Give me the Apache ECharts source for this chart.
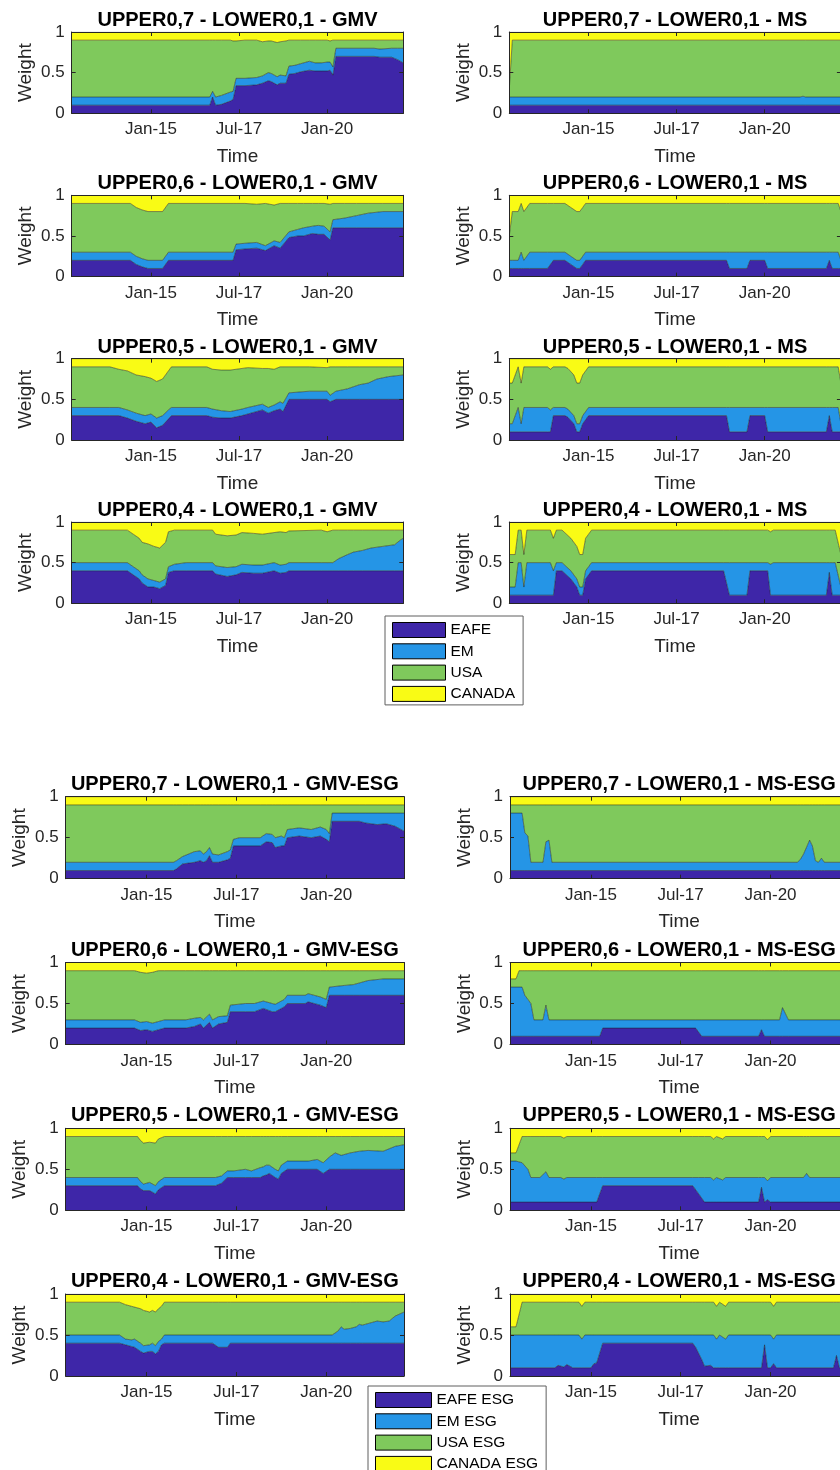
<!DOCTYPE html>
<html>
<head>
<meta charset="utf-8">
<script src="https://cdn.jsdelivr.net/npm/echarts@6/dist/echarts.min.js"></script>
<style>
  html, body { margin: 0; padding: 0; background: #fff; }
  #chart { width: 840px; height: 1470px; }
</style>
</head>
<body>
<div id="chart"></div>
<script>
// ---- shared labels ----
const assets = ['EAFE', 'EM', 'USA', 'CANADA'];
const assetsEsg = ['EAFE ESG', 'EM ESG', 'USA ESG', 'CANADA ESG'];
const tickDates = ['2015-01', '2017-07', '2020-01'];
const tickLabels = ['Jan-15', 'Jul-17', 'Jan-20'];
const dateStart = '2012-10';
const dateEnd = '2022-03';

// ---- portfolio weights (monthly rebalancing dates) ----
// GMV, upper 0.7
const gmv07Dates = ['2012-10','2016-09','2016-10','2016-11','2017-01','2017-04','2017-05','2017-06','2017-09','2018-01','2018-03','2018-05','2018-06','2018-08','2018-09','2018-11','2018-12','2019-02','2019-04','2019-07','2019-09','2019-11','2020-01','2020-02','2020-03','2020-04','2021-05','2021-07','2021-11','2022-01','2022-03'];
const gmv07Eafe = [.1,.1,.2,.1,.11,.15,.17,.34,.34,.35,.37,.4,.39,.35,.37,.37,.48,.49,.51,.53,.52,.52,.52,.53,.47,.7,.7,.69,.69,.66,.62];
const gmv07Em   = [.1,.1,.07,.1,.11,.11,.1,.09,.09,.09,.09,.1,.1,.1,.1,.09,.1,.1,.1,.11,.1,.1,.11,.1,.1,.1,.1,.1,.11,.14,.18];
const gmv07Usa  = [.7,.7,.63,.7,.68,.64,.62,.46,.47,.46,.42,.39,.4,.42,.41,.43,.32,.31,.29,.26,.28,.28,.27,.26,.33,.1,.1,.11,.1,.1,.1];
const gmv07Can  = [.1,.1,.1,.1,.1,.1,.11,.11,.1,.1,.12,.11,.11,.13,.12,.11,.1,.1,.1,.1,.1,.1,.1,.11,.1,.1,.1,.1,.1,.1,.1];

// GMV, upper 0.6
const gmv06Dates = ['2012-10','2014-06','2014-08','2014-10','2014-12','2015-05','2015-07','2017-05','2017-06','2017-09','2018-01','2018-04','2018-07','2018-09','2018-12','2019-03','2019-05','2019-08','2019-10','2019-12','2020-02','2020-03','2020-07','2020-11','2021-03','2021-08','2022-03'];
const gmv06Eafe = [.2,.2,.15,.12,.1,.1,.2,.2,.33,.34,.35,.32,.38,.35,.48,.5,.5,.53,.52,.52,.45,.6,.6,.6,.6,.6,.6];
const gmv06Em   = [.1,.1,.1,.1,.1,.1,.1,.1,.07,.07,.07,.06,.06,.07,.07,.08,.1,.09,.11,.1,.1,.1,.12,.15,.18,.2,.2];
const gmv06Usa  = [.6,.6,.6,.6,.6,.6,.6,.6,.5,.49,.47,.52,.44,.48,.35,.32,.3,.28,.27,.28,.34,.2,.18,.15,.12,.1,.1];
const gmv06Can  = [.1,.1,.15,.18,.2,.2,.1,.1,.1,.1,.11,.1,.12,.1,.1,.1,.1,.1,.1,.1,.11,.1,.1,.1,.1,.1,.1];

// GMV, upper 0.5
const gmv05Dates = ['2012-10','2013-11','2014-02','2014-05','2014-08','2014-11','2015-01','2015-03','2015-05','2015-07','2015-08','2016-08','2016-10','2017-01','2017-04','2017-08','2017-10','2018-03','2018-05','2018-07','2018-09','2018-10','2018-12','2019-07','2020-01','2020-02','2020-04','2020-08','2020-12','2021-03','2021-06','2021-10','2022-03'];
const gmv05Eafe = [.3,.3,.3,.27,.23,.2,.22,.15,.18,.26,.3,.3,.28,.27,.27,.3,.32,.37,.33,.36,.38,.35,.5,.5,.5,.47,.5,.5,.5,.5,.5,.5,.5];
const gmv05Em   = [.1,.1,.1,.1,.1,.1,.1,.12,.12,.11,.1,.1,.1,.09,.08,.08,.08,.07,.07,.07,.09,.1,.08,.1,.1,.08,.1,.13,.18,.2,.25,.28,.3];
const gmv05Usa  = [.5,.5,.47,.48,.47,.48,.44,.45,.45,.48,.5,.5,.49,.5,.51,.5,.49,.44,.48,.44,.43,.45,.32,.3,.29,.35,.3,.27,.22,.2,.15,.12,.1];
const gmv05Can  = [.1,.1,.13,.15,.2,.22,.24,.28,.25,.15,.1,.1,.13,.14,.14,.12,.11,.12,.12,.13,.1,.1,.1,.1,.11,.1,.1,.1,.1,.1,.1,.1,.1];

// GMV, upper 0.4
const gmv04Dates = ['2012-10','2014-05','2014-07','2014-09','2014-10','2014-12','2015-02','2015-04','2015-06','2015-07','2015-09','2016-01','2016-10','2016-11','2017-03','2017-06','2017-08','2017-12','2018-03','2018-07','2018-09','2018-11','2018-12','2019-11','2020-01','2020-03','2020-05','2020-08','2020-10','2021-01','2021-04','2021-08','2021-12','2022-02','2022-03'];
const gmv04Eafe = [.4,.4,.35,.3,.25,.2,.2,.18,.22,.38,.4,.4,.4,.36,.33,.35,.38,.37,.37,.4,.37,.38,.4,.4,.4,.4,.4,.4,.4,.4,.4,.4,.4,.4,.4];
const gmv04Em   = [.1,.1,.1,.1,.1,.1,.08,.08,.08,.07,.08,.1,.1,.1,.11,.1,.1,.1,.1,.1,.1,.1,.1,.1,.1,.1,.15,.2,.23,.25,.28,.3,.32,.38,.4];
const gmv04Usa  = [.4,.4,.4,.4,.4,.43,.42,.42,.45,.43,.42,.4,.4,.39,.39,.39,.39,.39,.38,.37,.41,.39,.39,.4,.38,.4,.35,.3,.27,.25,.22,.2,.18,.12,.1];
const gmv04Can  = [.1,.1,.15,.2,.25,.27,.3,.32,.25,.12,.1,.1,.1,.15,.17,.16,.13,.14,.15,.13,.12,.13,.11,.1,.12,.1,.1,.1,.1,.1,.1,.1,.1,.1,.1];

// MS, upper 0.7
const ms07Dates = ['2012-10','2012-11','2021-01','2021-02','2021-03','2022-03'];
const ms07Eafe = [.1,.1,.1,.1,.1,.1];
const ms07Em   = [.1,.1,.1,.11,.1,.1];
const ms07Usa  = [.1,.7,.7,.69,.7,.7];
const ms07Can  = [.7,.1,.1,.1,.1,.1];

// MS, upper 0.6
const ms06Dates = ['2012-10','2012-11','2013-01','2013-02','2013-03','2013-05','2013-11','2014-01','2014-05','2014-07','2014-09','2014-10','2014-11','2014-12','2018-12','2019-01','2019-07','2019-08','2020-01','2020-02','2021-10','2021-11','2021-12','2022-02','2022-03'];
const ms06Eafe = [.1,.1,.1,.1,.1,.1,.1,.2,.2,.15,.1,.1,.15,.2,.2,.1,.1,.2,.2,.1,.1,.2,.1,.1,.1];
const ms06Em   = [.1,.1,.1,.2,.1,.2,.2,.1,.1,.1,.1,.1,.1,.1,.1,.2,.2,.1,.1,.2,.2,.1,.2,.2,.1];
const ms06Usa  = [.3,.6,.6,.6,.6,.6,.6,.6,.6,.6,.6,.6,.6,.6,.6,.6,.6,.6,.6,.6,.6,.6,.6,.6,.6];
const ms06Can  = [.5,.2,.2,.1,.2,.1,.1,.1,.1,.15,.2,.2,.15,.1,.1,.1,.1,.1,.1,.1,.1,.1,.1,.1,.2];

// MS, upper 0.5
const ms05Dates = ['2012-10','2012-11','2013-01','2013-02','2013-03','2013-11','2013-12','2014-01','2014-05','2014-06','2014-08','2014-09','2014-10','2014-11','2015-01','2018-12','2019-01','2019-07','2019-08','2020-01','2020-02','2021-10','2021-11','2021-12','2022-02','2022-03'];
const ms05Eafe = [.1,.1,.1,.1,.1,.1,.1,.3,.3,.28,.2,.1,.1,.2,.3,.3,.1,.1,.3,.3,.1,.1,.3,.1,.1,.1];
const ms05Em   = [.1,.1,.3,.1,.3,.3,.27,.1,.1,.1,.1,.1,.1,.1,.1,.1,.3,.3,.1,.1,.3,.3,.1,.3,.3,.1];
const ms05Usa  = [.5,.5,.5,.5,.5,.5,.5,.5,.5,.5,.5,.5,.5,.5,.5,.5,.5,.5,.5,.5,.5,.5,.5,.5,.5,.5];
const ms05Can  = [.3,.3,.1,.3,.1,.1,.13,.1,.1,.12,.2,.3,.3,.2,.1,.1,.1,.1,.1,.1,.1,.1,.1,.1,.1,.3];

// MS, upper 0.4
const ms04Dates = ['2012-10','2012-12','2013-01','2013-02','2013-03','2013-04','2013-12','2014-01','2014-02','2014-04','2014-07','2014-09','2014-10','2014-11','2014-12','2015-01','2015-02','2018-11','2019-01','2019-07','2019-08','2020-02','2020-03','2020-04','2021-10','2021-11','2021-12','2022-01','2022-03'];
const ms04Eafe = [.1,.1,.1,.1,.1,.1,.1,.1,.4,.4,.3,.2,.1,.1,.3,.35,.4,.4,.1,.1,.4,.4,.1,.1,.1,.38,.1,.1,.1];
const ms04Em   = [.1,.1,.4,.4,.1,.4,.4,.3,.1,.1,.1,.1,.1,.1,.1,.1,.1,.1,.4,.4,.1,.1,.38,.4,.4,.12,.4,.4,.1];
const ms04Usa  = [.4,.4,.4,.4,.4,.4,.4,.4,.4,.4,.4,.4,.4,.4,.4,.4,.4,.4,.4,.4,.4,.4,.4,.4,.4,.4,.4,.4,.4];
const ms04Can  = [.4,.4,.1,.1,.4,.1,.1,.2,.1,.1,.2,.3,.4,.4,.2,.15,.1,.1,.1,.1,.1,.1,.12,.1,.1,.1,.1,.1,.4];

// GMV-ESG, upper 0.7
const gmvEsg07Dates = ['2012-10','2015-10','2015-11','2016-01','2016-03','2016-05','2016-07','2016-08','2016-09','2016-10','2016-11','2017-01','2017-04','2017-05','2017-06','2017-08','2018-03','2018-05','2018-07','2018-08','2018-10','2018-11','2018-12','2019-04','2019-08','2019-11','2020-01','2020-02','2020-03','2020-12','2021-02','2021-06','2021-09','2021-12','2022-03'];
const gmvEsg07Eafe = [.1,.1,.12,.18,.19,.2,.22,.2,.22,.28,.2,.2,.23,.25,.4,.4,.4,.45,.44,.38,.4,.4,.5,.52,.5,.52,.48,.45,.7,.7,.68,.66,.67,.64,.58];
const gmvEsg07Em   = [.1,.1,.1,.09,.11,.13,.12,.1,.11,.1,.1,.09,.1,.1,.08,.1,.1,.1,.1,.12,.12,.1,.1,.1,.1,.11,.12,.1,.1,.1,.12,.14,.13,.16,.22];
const gmvEsg07Usa  = [.7,.7,.68,.63,.6,.57,.56,.6,.57,.52,.6,.61,.57,.55,.42,.4,.4,.35,.36,.4,.38,.4,.3,.28,.3,.27,.3,.35,.1,.1,.1,.1,.1,.1,.1];
const gmvEsg07Can  = [.1,.1,.1,.1,.1,.1,.1,.1,.1,.1,.1,.1,.1,.1,.1,.1,.1,.1,.1,.1,.1,.1,.1,.1,.1,.1,.1,.1,.1,.1,.1,.1,.1,.1,.1];

// GMV-ESG, upper 0.6
const gmvEsg06Dates = ['2012-10','2014-09','2014-11','2015-01','2015-03','2015-05','2015-07','2016-02','2016-05','2016-07','2016-08','2016-10','2016-11','2017-01','2017-04','2017-05','2017-10','2018-01','2018-04','2018-07','2018-08','2018-11','2018-12','2019-06','2019-07','2019-11','2020-01','2020-02','2020-07','2020-10','2020-12','2021-03','2021-08','2022-03'];
const gmvEsg06Eafe = [.2,.2,.17,.18,.16,.18,.2,.2,.22,.25,.2,.27,.2,.25,.27,.4,.4,.4,.44,.4,.4,.46,.5,.5,.52,.48,.45,.6,.6,.6,.6,.6,.6,.6];
const gmvEsg06Em   = [.1,.1,.1,.1,.1,.1,.1,.1,.1,.08,.1,.1,.1,.09,.08,.08,.1,.1,.09,.1,.09,.09,.1,.1,.1,.1,.1,.1,.12,.13,.15,.18,.2,.2];
const gmvEsg06Usa  = [.6,.6,.61,.59,.62,.62,.6,.6,.58,.57,.6,.53,.6,.56,.55,.42,.4,.4,.37,.4,.41,.35,.3,.3,.28,.32,.35,.2,.18,.17,.15,.12,.1,.1];
const gmvEsg06Can  = [.1,.1,.12,.13,.12,.1,.1,.1,.1,.1,.1,.1,.1,.1,.1,.1,.1,.1,.1,.1,.1,.1,.1,.1,.1,.1,.1,.1,.1,.1,.1,.1,.1,.1];

// GMV-ESG, upper 0.5
const gmvEsg05Dates = ['2012-10','2014-10','2014-11','2014-12','2015-02','2015-04','2015-05','2015-07','2016-12','2017-02','2017-04','2017-06','2017-10','2017-12','2018-03','2018-04','2018-05','2018-06','2018-08','2018-09','2018-10','2018-12','2019-07','2019-10','2019-12','2020-02','2020-04','2020-06','2020-09','2020-12','2021-03','2021-08','2021-12','2022-03'];
const gmvEsg05Eafe = [.3,.3,.26,.24,.24,.2,.25,.3,.3,.33,.4,.4,.4,.4,.4,.42,.43,.45,.4,.38,.45,.5,.5,.5,.45,.5,.5,.5,.5,.5,.5,.5,.5,.5];
const gmvEsg05Em   = [.1,.1,.09,.08,.1,.1,.1,.1,.1,.09,.08,.08,.1,.08,.12,.11,.12,.1,.1,.1,.1,.1,.1,.12,.13,.15,.2,.17,.2,.22,.23,.22,.28,.3];
const gmvEsg05Usa  = [.5,.5,.5,.5,.49,.52,.52,.5,.5,.48,.42,.42,.4,.42,.38,.37,.35,.35,.4,.42,.35,.3,.3,.28,.32,.25,.2,.23,.2,.18,.17,.18,.12,.1];
const gmvEsg05Can  = [.1,.1,.15,.18,.17,.18,.13,.1,.1,.1,.1,.1,.1,.1,.1,.1,.1,.1,.1,.1,.1,.1,.1,.1,.1,.1,.1,.1,.1,.1,.1,.1,.1,.1];

// GMV-ESG, upper 0.4
const gmvEsg04Dates = ['2012-10','2014-04','2014-06','2014-08','2014-09','2014-11','2014-12','2015-02','2015-03','2015-04','2015-05','2015-06','2015-07','2016-11','2017-01','2017-04','2017-05','2020-03','2020-05','2020-06','2020-07','2020-09','2020-11','2020-12','2021-01','2021-04','2021-06','2021-08','2021-10','2021-12','2022-03'];
const gmvEsg04Eafe = [.4,.4,.38,.36,.35,.3,.28,.3,.3,.27,.3,.38,.4,.4,.35,.35,.4,.4,.4,.4,.4,.4,.4,.4,.4,.4,.4,.4,.4,.4,.4];
const gmvEsg04Em   = [.1,.1,.07,.08,.1,.1,.09,.08,.1,.1,.12,.07,.1,.1,.15,.15,.1,.1,.15,.2,.17,.18,.2,.23,.22,.25,.27,.26,.27,.33,.38];
const gmvEsg04Usa  = [.4,.4,.42,.41,.39,.42,.43,.4,.4,.41,.4,.4,.4,.4,.4,.4,.4,.4,.35,.3,.33,.32,.3,.27,.28,.25,.23,.24,.23,.17,.12];
const gmvEsg04Can  = [.1,.1,.13,.15,.16,.18,.2,.22,.2,.22,.18,.15,.1,.1,.1,.1,.1,.1,.1,.1,.1,.1,.1,.1,.1,.1,.1,.1,.1,.1,.1];

// MS-ESG, upper 0.7
const msEsg07Dates = ['2012-10','2013-02','2013-03','2013-04','2013-05','2013-09','2013-10','2013-11','2013-12','2020-10','2020-11','2020-12','2021-02','2021-03','2021-04','2021-05','2021-06','2021-07','2022-03'];
const msEsg07Eafe = [.1,.1,.1,.1,.1,.1,.1,.1,.1,.1,.1,.1,.1,.1,.1,.1,.1,.1,.1];
const msEsg07Em   = [.7,.7,.46,.42,.1,.1,.35,.37,.1,.1,.14,.2,.37,.3,.12,.1,.15,.1,.1];
const msEsg07Usa  = [.1,.1,.34,.38,.7,.7,.45,.43,.7,.7,.66,.6,.43,.5,.68,.7,.65,.7,.7];
const msEsg07Can  = [.1,.1,.1,.1,.1,.1,.1,.1,.1,.1,.1,.1,.1,.1,.1,.1,.1,.1,.1];

// MS-ESG, upper 0.6
const msEsg06Dates = ['2012-10','2012-12','2013-01','2013-02','2013-03','2013-04','2013-05','2013-06','2013-09','2013-10','2013-11','2015-04','2015-05','2017-12','2018-02','2019-09','2019-10','2019-11','2020-04','2020-05','2020-07','2022-03'];
const msEsg06Eafe = [.1,.1,.1,.1,.1,.1,.1,.1,.1,.1,.1,.1,.2,.2,.1,.1,.18,.1,.1,.1,.1,.1];
const msEsg06Em   = [.6,.6,.6,.6,.5,.45,.4,.2,.2,.38,.2,.2,.1,.1,.2,.2,.12,.2,.2,.35,.2,.2];
const msEsg06Usa  = [.1,.1,.2,.2,.3,.35,.4,.6,.6,.42,.6,.6,.6,.6,.6,.6,.6,.6,.6,.45,.6,.6];
const msEsg06Can  = [.2,.2,.1,.1,.1,.1,.1,.1,.1,.1,.1,.1,.1,.1,.1,.1,.1,.1,.1,.1,.1,.1];

// MS-ESG, upper 0.5
const msEsg05Dates = ['2012-10','2012-12','2013-02','2013-04','2013-05','2013-08','2013-10','2013-11','2014-03','2014-04','2014-05','2015-03','2015-05','2017-11','2018-01','2018-03','2018-05','2018-06','2018-07','2018-09','2018-10','2019-09','2019-10','2019-11','2019-12','2020-01','2020-12','2021-01','2021-02','2022-02','2022-03'];
const msEsg05Eafe = [.1,.1,.1,.1,.1,.1,.1,.1,.1,.1,.1,.1,.3,.3,.2,.1,.1,.1,.1,.1,.1,.1,.28,.1,.13,.1,.1,.1,.1,.1,.2];
const msEsg05Em   = [.5,.5,.48,.4,.3,.3,.37,.3,.3,.28,.3,.3,.1,.1,.2,.3,.3,.27,.3,.27,.3,.3,.12,.3,.23,.3,.3,.35,.3,.3,.2];
const msEsg05Usa  = [.1,.1,.32,.4,.5,.5,.43,.5,.5,.5,.5,.5,.5,.5,.5,.5,.5,.5,.5,.5,.5,.5,.5,.5,.5,.5,.5,.45,.5,.5,.5];
const msEsg05Can  = [.3,.3,.1,.1,.1,.1,.1,.1,.1,.12,.1,.1,.1,.1,.1,.1,.1,.13,.1,.13,.1,.1,.1,.1,.14,.1,.1,.1,.1,.1,.1];

// MS-ESG, upper 0.4
const msEsg04Dates = ['2012-10','2012-12','2013-02','2014-01','2014-02','2014-04','2014-05','2014-06','2014-07','2014-09','2014-10','2014-11','2015-01','2015-02','2015-03','2015-05','2017-11','2017-12','2018-02','2018-03','2018-05','2018-06','2018-07','2018-08','2018-10','2018-11','2019-10','2019-11','2019-12','2020-01','2020-02','2020-03','2021-10','2021-11','2021-12','2022-03'];
const msEsg04Eafe = [.1,.1,.1,.1,.13,.11,.14,.12,.1,.1,.1,.1,.1,.15,.16,.4,.4,.35,.2,.12,.13,.1,.1,.1,.1,.1,.1,.38,.1,.1,.15,.1,.1,.25,.1,.1];
const msEsg04Em   = [.4,.4,.4,.4,.37,.39,.36,.38,.4,.4,.35,.4,.4,.35,.34,.1,.1,.15,.3,.38,.37,.4,.35,.4,.35,.4,.4,.12,.4,.4,.3,.4,.4,.25,.4,.4];
const msEsg04Usa  = [.1,.1,.4,.4,.4,.4,.4,.4,.4,.4,.4,.4,.4,.4,.4,.4,.4,.4,.4,.4,.4,.4,.4,.4,.4,.4,.4,.4,.4,.4,.4,.4,.4,.4,.4,.4];
const msEsg04Can  = [.4,.4,.1,.1,.1,.1,.1,.1,.1,.1,.15,.1,.1,.1,.1,.1,.1,.1,.1,.1,.1,.1,.15,.1,.15,.1,.1,.1,.1,.1,.15,.1,.1,.1,.1,.1];

// ---- styling ----
const areaColors = ['#3e26a8', '#2595e6', '#7fc95c', '#f9fb15'];
const FONT = '"Liberation Sans", Arial, Helvetica, sans-serif';
const INK = '#262626';

// panels: section 0 = plain, 1 = ESG; col 0 = GMV, 1 = MS
const panels = [
  { title: 'UPPER0,7 - LOWER0,1 - GMV', sec: 0, col: 0, row: 0, dates: gmv07Dates, w: [gmv07Eafe, gmv07Em, gmv07Usa, gmv07Can] },
  { title: 'UPPER0,6 - LOWER0,1 - GMV', sec: 0, col: 0, row: 1, dates: gmv06Dates, w: [gmv06Eafe, gmv06Em, gmv06Usa, gmv06Can] },
  { title: 'UPPER0,5 - LOWER0,1 - GMV', sec: 0, col: 0, row: 2, dates: gmv05Dates, w: [gmv05Eafe, gmv05Em, gmv05Usa, gmv05Can] },
  { title: 'UPPER0,4 - LOWER0,1 - GMV', sec: 0, col: 0, row: 3, dates: gmv04Dates, w: [gmv04Eafe, gmv04Em, gmv04Usa, gmv04Can] },
  { title: 'UPPER0,7 - LOWER0,1 - MS', sec: 0, col: 1, row: 0, dates: ms07Dates, w: [ms07Eafe, ms07Em, ms07Usa, ms07Can] },
  { title: 'UPPER0,6 - LOWER0,1 - MS', sec: 0, col: 1, row: 1, dates: ms06Dates, w: [ms06Eafe, ms06Em, ms06Usa, ms06Can] },
  { title: 'UPPER0,5 - LOWER0,1 - MS', sec: 0, col: 1, row: 2, dates: ms05Dates, w: [ms05Eafe, ms05Em, ms05Usa, ms05Can] },
  { title: 'UPPER0,4 - LOWER0,1 - MS', sec: 0, col: 1, row: 3, dates: ms04Dates, w: [ms04Eafe, ms04Em, ms04Usa, ms04Can] },
  { title: 'UPPER0,7 - LOWER0,1 - GMV-ESG', sec: 1, col: 0, row: 0, dates: gmvEsg07Dates, w: [gmvEsg07Eafe, gmvEsg07Em, gmvEsg07Usa, gmvEsg07Can] },
  { title: 'UPPER0,6 - LOWER0,1 - GMV-ESG', sec: 1, col: 0, row: 1, dates: gmvEsg06Dates, w: [gmvEsg06Eafe, gmvEsg06Em, gmvEsg06Usa, gmvEsg06Can] },
  { title: 'UPPER0,5 - LOWER0,1 - GMV-ESG', sec: 1, col: 0, row: 2, dates: gmvEsg05Dates, w: [gmvEsg05Eafe, gmvEsg05Em, gmvEsg05Usa, gmvEsg05Can] },
  { title: 'UPPER0,4 - LOWER0,1 - GMV-ESG', sec: 1, col: 0, row: 3, dates: gmvEsg04Dates, w: [gmvEsg04Eafe, gmvEsg04Em, gmvEsg04Usa, gmvEsg04Can] },
  { title: 'UPPER0,7 - LOWER0,1 - MS-ESG', sec: 1, col: 1, row: 0, dates: msEsg07Dates, w: [msEsg07Eafe, msEsg07Em, msEsg07Usa, msEsg07Can] },
  { title: 'UPPER0,6 - LOWER0,1 - MS-ESG', sec: 1, col: 1, row: 1, dates: msEsg06Dates, w: [msEsg06Eafe, msEsg06Em, msEsg06Usa, msEsg06Can] },
  { title: 'UPPER0,5 - LOWER0,1 - MS-ESG', sec: 1, col: 1, row: 2, dates: msEsg05Dates, w: [msEsg05Eafe, msEsg05Em, msEsg05Usa, msEsg05Can] },
  { title: 'UPPER0,4 - LOWER0,1 - MS-ESG', sec: 1, col: 1, row: 3, dates: msEsg04Dates, w: [msEsg04Eafe, msEsg04Em, msEsg04Usa, msEsg04Can] }
];

// subplot geometry per section
const sections = [
  { tops: [32, 195.3, 358.7, 522], height: 81.3, lefts: [71.7, 509.3], width: 331.6, titleGap: 11.5, nameGapX: 34 },
  { tops: [796.7, 962.5, 1128.3, 1294], height: 82, lefts: [65.7, 510], width: 338.3, titleGap: 12.5, nameGapX: 34 }
];

function toTime(s) {
  const p = s.split('-');
  return new Date(+p[0], +p[1] - 1, 1).getTime();
}
const tickTimes = tickDates.map(toTime);
const xMin = toTime(dateStart);
const xMax = toTime(dateEnd);
function tickText(v) {
  const k = tickTimes.findIndex(t => Math.abs(t - v) < 864e5);
  return k < 0 ? '' : tickLabels[k];
}

const grids = [], xBottom = [], xTop = [], yLeft = [], yRight = [], series = [], titles = [];

panels.forEach((p, i) => {
  const s = sections[p.sec];
  const left = s.lefts[p.col], top = s.tops[p.row];
  grids.push({ left: left, top: top, width: s.width, height: s.height, containLabel: false, outerBoundsMode: 'none' });

  xBottom.push({
    type: 'value', gridIndex: i, position: 'bottom', min: xMin, max: xMax, z: 10,
    axisLine: { show: true, onZero: false, lineStyle: { color: INK, width: 1 } },
    axisTick: { show: true, inside: true, length: 4, customValues: tickTimes, lineStyle: { color: INK, width: 1 } },
    axisLabel: { show: true, customValues: tickTimes, formatter: tickText, color: INK, fontSize: 17, fontFamily: FONT, margin: 8 },
    splitLine: { show: false },
    name: 'Time', nameLocation: 'middle', nameGap: s.nameGapX,
    nameTextStyle: { fontSize: 19, color: INK, fontFamily: FONT }
  });
  xTop.push({
    type: 'value', gridIndex: i, position: 'top', min: xMin, max: xMax, z: 10,
    axisLine: { show: true, onZero: false, lineStyle: { color: INK, width: 1 } },
    axisTick: { show: true, inside: true, length: 4, customValues: tickTimes, lineStyle: { color: INK, width: 1 } },
    axisLabel: { show: false },
    splitLine: { show: false }
  });
  yLeft.push({
    type: 'value', gridIndex: i, position: 'left', min: 0, max: 1, interval: 0.5, z: 10,
    axisLine: { show: true, lineStyle: { color: INK, width: 1 } },
    axisTick: { show: true, inside: true, length: 4, lineStyle: { color: INK } },
    axisLabel: { show: true, color: INK, fontSize: 17, fontFamily: FONT, margin: 7 },
    splitLine: { show: false },
    name: 'Weight', nameLocation: 'middle', nameGap: 36, nameRotate: 90,
    nameTextStyle: { fontSize: 19, color: INK, fontFamily: FONT }
  });
  yRight.push({
    type: 'value', gridIndex: i, position: 'right', min: 0, max: 1, interval: 0.5, z: 10,
    axisLine: { show: true, lineStyle: { color: INK, width: 1 } },
    axisTick: { show: true, inside: true, length: 4, lineStyle: { color: INK } },
    axisLabel: { show: false },
    splitLine: { show: false }
  });

  const names = p.sec === 0 ? assets : assetsEsg;
  p.w.forEach((vals, k) => {
    series.push({
      type: 'line', name: names[k], xAxisIndex: i, yAxisIndex: i, stack: 'panel' + i,
      // weight first, date second: the weight column is the one that gets stacked
      data: p.dates.map((d, j) => [vals[j], toTime(d)]),
      encode: { x: 1, y: 0 },
      symbol: 'none', showSymbol: false, silent: true, smooth: false,
      color: areaColors[k],
      itemStyle: { color: areaColors[k] },
      lineStyle: { color: '#1c1c1c', width: 0.6, opacity: 0.85 },
      areaStyle: { color: areaColors[k], opacity: 1 },
      emphasis: { disabled: true },
      z: 2
    });
  });

  titles.push({
    type: 'text', silent: true, z: 100,
    x: left + s.width / 2, y: top - s.titleGap,
    style: {
      text: p.title, fill: '#000', font: 'bold 20px ' + FONT,
      align: 'center', verticalAlign: 'middle', textAlign: 'center', textVerticalAlign: 'middle'
    }
  });
});

function legendBlock(names, left, top, itemWidth) {
  return {
    show: true, orient: 'vertical', left: left, top: top, height: 90,
    data: names.map((n, k) => ({ name: n, itemStyle: { color: areaColors[k], borderColor: '#000', borderWidth: 1 } })),
    icon: 'rect', itemWidth: itemWidth, itemHeight: 15, itemGap: 5.3,
    padding: [6, 8, 3, 7],
    backgroundColor: '#fff', borderColor: '#5f5f5f', borderWidth: 1,
    selectedMode: false,
    textStyle: { fontSize: 15.5, color: '#000', fontFamily: FONT, lineHeight: 15 }
  };
}

const chart = echarts.init(document.getElementById('chart'), null, { renderer: 'canvas' });
chart.setOption({
  backgroundColor: '#fff',
  animation: false,
  textStyle: { fontFamily: FONT },
  grid: grids,
  xAxis: xBottom.concat(xTop),
  yAxis: yLeft.concat(yRight),
  series: series,
  legend: [
    legendBlock(assets, 385, 616, 53),
    legendBlock(assetsEsg, 368, 1386, 56)
  ],
  graphic: { elements: titles },
  tooltip: { show: false }
});
</script>
</body>
</html>
